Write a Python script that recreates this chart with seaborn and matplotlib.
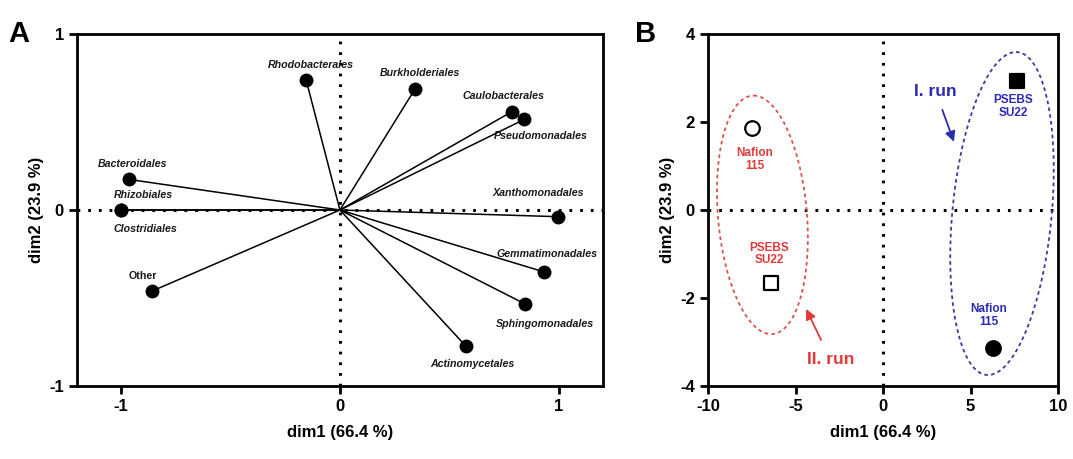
import numpy as np
import pandas as pd
import matplotlib
matplotlib.use("Agg")
import matplotlib.pyplot as plt
import seaborn as sns

# ---------------- data ----------------
# Panel A: loadings
orders = ["Rhodobacterales", "Burkholderiales", "Caulobacterales", "Pseudomonadales",
          "Bacteroidales", "Rhizobiales", "Clostridiales", "Xanthomonadales",
          "Gemmatimonadales", "Sphingomonadales", "Actinomycetales", "Other"]
dim1_load = [-0.154, 0.344, 0.784, 0.842, -0.965, -1.0, -1.0, 0.995, 0.932, 0.847, 0.574, -0.86]
dim2_load = [0.737, 0.69, 0.558, 0.515, 0.174, 0.0, 0.0, -0.038, -0.352, -0.535, -0.772, -0.462]

# Panel B: scores
samples = ["Nafion\n115", "PSEBS\nSU22", "PSEBS\nSU22", "Nafion\n115"]
runs = ["II", "II", "I", "I"]
dim1_score = [-7.48, -6.39, 7.63, 6.26]
dim2_score = [1.86, -1.67, 2.94, -3.13]

x_ticks_a = [-1, 0, 1]
y_ticks_a = [-1, 0, 1]
x_ticks_b = [-10, -5, 0, 5, 10]
y_ticks_b = [-4, -2, 0, 2, 4]

# ---------------- styling ----------------
sns.set_style("ticks")
plt.rcParams["font.family"] = ["Liberation Sans", "DejaVu Sans"]
plt.rcParams["font.weight"] = "bold"
plt.rcParams["axes.linewidth"] = 2.0
plt.rcParams["axes.unicode_minus"] = False
plt.rcParams["text.color"] = "black"
plt.rcParams["axes.labelcolor"] = "black"

# label offsets (points) for panel A
label_off = [(3, 11), (3, 11), (-6, 11), (12, -12), (3, 11), (16, 11), (18, -14),
             (-14, 17), (2, 13), (14, -14), (5, -13), (-6, 11)]

fig = plt.figure(figsize=(10.73, 4.59), dpi=100)
axA = fig.add_axes([0.0718, 0.159, 0.490, 0.767])
axB = fig.add_axes([0.660, 0.159, 0.326, 0.767])

dotted = dict(color="black", lw=2.2, ls=(0, (0.9, 2.6)), zorder=1)

# ---------------- panel A ----------------
dfA = pd.DataFrame({"order": orders, "dim1": dim1_load, "dim2": dim2_load})
axA.axhline(0, **dotted)
axA.axvline(0, **dotted)
for x, y in zip(dfA["dim1"], dfA["dim2"]):
    axA.plot([0, x], [0, y], color="black", lw=1.1, zorder=2)
sns.scatterplot(data=dfA, x="dim1", y="dim2", ax=axA, color="black", s=100,
                edgecolor="black", linewidth=0, zorder=3, legend=False)
for (name, x, y), off in zip(zip(orders, dim1_load, dim2_load), label_off):
    style = "normal" if name == "Other" else "italic"
    axA.annotate(name, (x, y), xytext=off, textcoords="offset points",
                 ha="center", va="center", fontsize=7.7, fontweight="bold",
                 fontstyle=style, color="#1a1a1a", zorder=4)
axA.set_xlim(-1.2, 1.2)
axA.set_ylim(-1, 1)
axA.set_xticks(x_ticks_a)
axA.set_yticks(y_ticks_a)
axA.set_xlabel("dim1 (66.4 %)", fontsize=12, fontweight="bold", labelpad=8)
axA.set_ylabel("dim2 (23.9 %)", fontsize=12, fontweight="bold", labelpad=4)

# ---------------- panel B ----------------
red = "#e03a3a"
blue = "#2b2bb0"
markers = ["o", "s", "s", "o"]
faces = ["white", "white", "black", "black"]
dfB = pd.DataFrame({"sample": samples, "run": runs, "dim1": dim1_score, "dim2": dim2_score})
axB.axhline(0, **dotted)
axB.axvline(0, **dotted)
for i in range(len(dfB)):
    sns.scatterplot(data=dfB.iloc[[i]], x="dim1", y="dim2", ax=axB, marker=markers[i],
                    color=faces[i], edgecolor="black", linewidth=1.6, s=110,
                    zorder=4, legend=False)

# sample labels
lab_pos = [(-7.35, 1.15), (-6.5, -1.0), (7.45, 2.35), (6.05, -2.4)]
lab_col = [red, red, blue, blue]
for s, (lx, ly), c in zip(samples, lab_pos, lab_col):
    axB.text(lx, ly, s, ha="center", va="center", fontsize=8.5, fontweight="bold",
             color=c, linespacing=1.05, zorder=5)

# group ellipses (centre, half major vector, half minor vector)
ell_center = [(-6.9, -0.11), (6.8, -0.08)]
ell_major = [(-0.5, 2.71), (0.8, 3.67)]
ell_minor = [(2.55, 0.0), (2.85, 0.0)]
ell_col = ["#d9534f", "#3a3a9e"]
t = np.linspace(0, 2 * np.pi, 300)
for (cx, cy), (ax_, ay_), (bx, by), c in zip(ell_center, ell_major, ell_minor, ell_col):
    ex = cx + ax_ * np.cos(t) + bx * np.sin(t)
    ey = cy + ay_ * np.cos(t) + by * np.sin(t)
    axB.plot(ex, ey, color=c, lw=1.3, ls=(0, (2.0, 1.8)), zorder=3)

# run annotations
axB.annotate("I. run", xy=(4.05, 1.55), xytext=(3.0, 2.7), ha="center", va="center",
             fontsize=12.5, fontweight="bold", color=blue,
             arrowprops=dict(arrowstyle="-|>", color=blue, lw=1.3, mutation_scale=15,
                             shrinkA=6, shrinkB=0))
axB.annotate("II. run", xy=(-4.4, -2.25), xytext=(-3.0, -3.4), ha="center", va="center",
             fontsize=12.5, fontweight="bold", color=red,
             arrowprops=dict(arrowstyle="-|>", color=red, lw=1.3, mutation_scale=15,
                             shrinkA=7, shrinkB=0))

axB.set_xlim(-10, 10)
axB.set_ylim(-4, 4)
axB.set_xticks(x_ticks_b)
axB.set_yticks(y_ticks_b)
axB.set_xlabel("dim1 (66.4 %)", fontsize=12, fontweight="bold", labelpad=8)
axB.set_ylabel("dim2 (23.9 %)", fontsize=12, fontweight="bold", labelpad=4)

for ax in (axA, axB):
    ax.tick_params(axis="both", direction="out", length=6, width=2, labelsize=12,
                   colors="black")
    for lab in ax.get_xticklabels() + ax.get_yticklabels():
        lab.set_fontweight("bold")
    for sp in ax.spines.values():
        sp.set_linewidth(2)
        sp.set_color("black")

fig.text(0.008, 0.925, "A", fontsize=21, fontweight="bold", va="center", color="black")
fig.text(0.592, 0.925, "B", fontsize=21, fontweight="bold", va="center", color="black")

fig.savefig("out.png", dpi=100)
